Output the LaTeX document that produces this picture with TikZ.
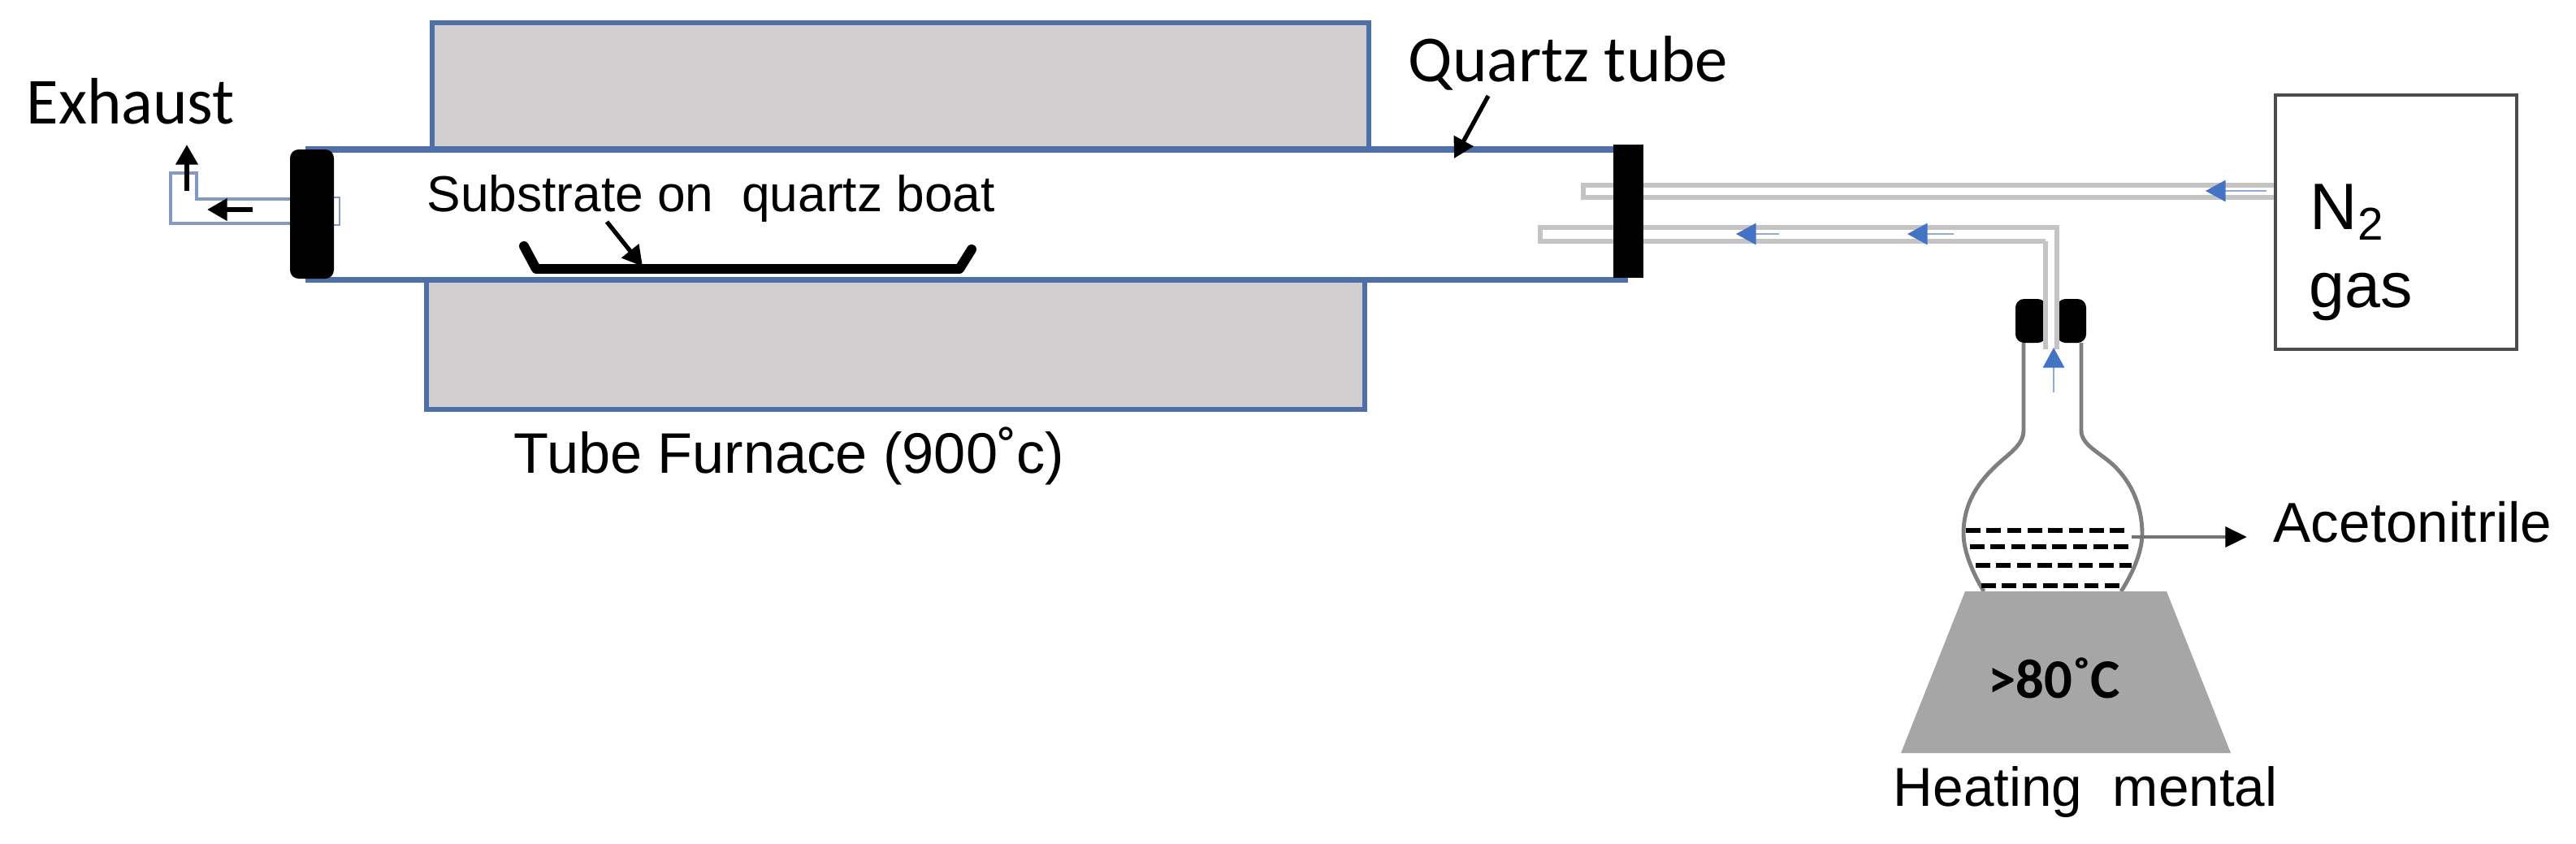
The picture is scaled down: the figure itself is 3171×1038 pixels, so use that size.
\documentclass[tikz,border=0pt]{standalone}
\usepackage{fontspec}
\usepackage{tikz}
\usetikzlibrary{arrows.meta}
\setmainfont{Liberation Sans}
\newfontfamily\calibrifont{Carlito}
\definecolor{tubeblue}{HTML}{4F6FA8}
\definecolor{furnacegray}{HTML}{D0CECE}
\definecolor{pipegray}{HTML}{C4C4C4}
\definecolor{flaskgray}{HTML}{7F7F7F}
\definecolor{mantlegray}{HTML}{A6A6A6}
\definecolor{flowblue}{HTML}{4472C4}
\tikzset{
	textlabel/.style={inner sep=0pt,anchor=base west},
	calibri/.style={textlabel,font=\calibrifont\fontsize{23}{26}\selectfont},
	blackarrow/.style={draw=black,line width=1.7pt,-{Triangle[length=7pt,width=7.5pt]}},
	flowarrow/.style={draw=flowblue!60,line width=0.5pt,-{Triangle[length=7pt,width=7.5pt,color=flowblue]}},
	pipe/.style={draw=pipegray,line width=1.9pt},
	furnace/.style={draw=tubeblue,line width=1.5pt,fill=furnacegray},
	flaskwall/.style={draw=flaskgray,line width=1.4pt},
	liquid/.style={draw=black,line width=1.7pt,dash pattern=on 5pt off 2.2pt}
}
\begin{document}
\begin{tikzpicture}[x=0.01cm,y=-0.01cm]
	\useasboundingbox (0,0) rectangle (3171,1038);

	% furnace
	\path[furnace] (532,28) rectangle (1685,183);
	\path[furnace] (525,344) rectangle (1680,504);

	% quartz tube
	\draw[tubeblue,line width=2pt,fill=white] (380,184) rectangle (2000,344);

	% exhaust pipe
	\draw[tubeblue!70,line width=1.4pt] (357,245) -- (242,245) -- (242,213) -- (210,213) -- (210,275) -- (357,275);
	\draw[tubeblue!70,line width=0.8pt] (411,243) -- (418,243) -- (418,277) -- (411,277);

	% stopper
	\fill[black,rounded corners=3pt] (2481,368) rectangle (2519,422);
	\fill[black,rounded corners=3pt] (2532,368) rectangle (2568,422);

	% inlet pipes
	\draw[pipe] (2800,228) -- (1949,228) -- (1949,243) -- (2800,243);
	\draw[pipe] (2518,297) -- (1896,297) -- (1896,280) -- (2532,280) -- (2532,430);
	\draw[pipe] (2518,297) -- (2518,430);

	% end caps
	\fill[black,rounded corners=3pt] (357,184) rectangle (411,343);
	\fill[black] (1986,178) rectangle (2023,342);

	% boat
	\draw[black,line width=3.4pt,line cap=round,line join=round] (645,303) -- (660,331) -- (1181,331) -- (1196,307);

	% flask
	\draw[flaskwall] (2491,422) -- (2491,530)
		.. controls (2491,545) and (2478,555) .. (2464,567)
		.. controls (2440,588) and (2417,615) .. (2417,657)
		.. controls (2417,680) and (2430,708) .. (2442,728);
	\draw[flaskwall] (2562,422) -- (2562,530)
		.. controls (2562,548) and (2585,557) .. (2602,573)
		.. controls (2625,595) and (2637,625) .. (2637,657)
		.. controls (2637,680) and (2624,708) .. (2611,728);
	\draw[liquid] (2420,653) -- (2621,653);
	\draw[liquid] (2425,673) -- (2626,673);
	\draw[liquid] (2432,696) -- (2624,696);
	\draw[liquid] (2439,721) -- (2614,721);

	% heating mantle
	\fill[mantlegray] (2419,728) -- (2667,728) -- (2746,927) -- (2340,927) -- cycle;

	% gas box
	\draw[black!70,line width=1.4pt] (2801,117) rectangle (3098,430);

	% labels
	\path (32,152) node[calibri] (exhaust) {Exhaust}
		(525,260) node[textlabel,font=\fontsize{17.7}{20}\selectfont] (substrate) {Substrate on \ quartz boat}
		(1733,100) node[calibri] (quartz) {Quartz tube}
		(632,582) node[textlabel,font=\fontsize{20}{24}\selectfont] (furnacelabel) {Tube Furnace (900˚c)}
		(2798,667) node[textlabel,font=\fontsize{19.7}{24}\selectfont] (acetonitrile) {Acetonitrile}
		(2330,992) node[textlabel,font=\fontsize{19.2}{24}\selectfont] (heating) {Heating \ mental}
		(2843,282) node[textlabel,font=\fontsize{23}{26}\selectfont] (nitrogen) {N\textsubscript{2}}
		(2842,378) node[textlabel,font=\fontsize{22.4}{26}\selectfont] (gas) {gas}
		(2447,859) node[textlabel,font=\calibrifont\bfseries\fontsize{19.5}{24}\selectfont] (temperature) {>80˚C};

	% arrows
	\coordinate (upfrom) at (230,235);
	\coordinate (upto) at (230,178);
	\coordinate (leftfrom) at (311,258);
	\coordinate (leftto) at (255,258);
	\coordinate (boatfrom) at (747,273);
	\coordinate (boatto) at (791,328);
	\coordinate (quartzfrom) at (1832,118);
	\coordinate (quartzto) at (1790,195);
	\coordinate (liquidfrom) at (2624,661);
	\coordinate (liquidto) at (2766,661);
	\draw[blackarrow] (upfrom) -- (upto);
	\draw[blackarrow] (leftfrom) -- (leftto);
	\draw[blackarrow,line width=1.5pt] (boatfrom) -- (boatto);
	\draw[blackarrow,line width=1.5pt] (quartzfrom) -- (quartzto);
	\draw[blackarrow,line width=1.4pt,draw=black!55,-{Triangle[length=7.6pt,width=7pt,color=black]}] (liquidfrom) -- (liquidto);

	% gas flow
	\coordinate (flowa) at (2790,235);
	\coordinate (flowb) at (2715,235);
	\coordinate (flowc) at (2190,288);
	\coordinate (flowd) at (2137,288);
	\coordinate (flowe) at (2405,288);
	\coordinate (flowf) at (2348,288);
	\coordinate (flowg) at (2528,483);
	\coordinate (flowh) at (2528,428);
	\draw[flowarrow] (flowa) -- (flowb);
	\draw[flowarrow] (flowc) -- (flowd);
	\draw[flowarrow] (flowe) -- (flowf);
	\draw[flowarrow] (flowg) -- (flowh);
\end{tikzpicture}
\end{document}
